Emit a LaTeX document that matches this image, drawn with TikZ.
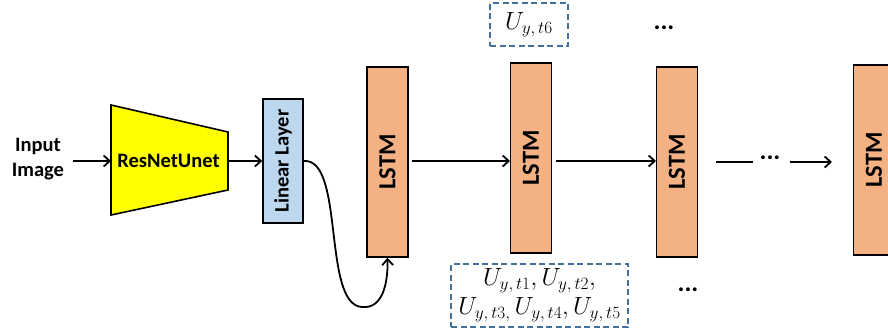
\documentclass[tikz,border=0pt]{standalone}
\usepackage{fontspec}
\setsansfont{Carlito}
\usetikzlibrary{arrows.meta}
\definecolor{resy}{HTML}{FFFF00}
\definecolor{linb}{HTML}{BDD7EE}
\definecolor{lstmo}{HTML}{F4B183}
\definecolor{dashb}{HTML}{41719C}
\tikzset{
  lbl/.style={font=\sffamily\bfseries\fontsize{20.5}{25}\selectfont, align=center, inner sep=0pt},
  lstmbox/.style={draw=black, line width=1.6pt, fill=lstmo, minimum width=41pt, minimum height=190pt, inner sep=0pt, font=\sffamily\bfseries\fontsize{24.5}{28}\selectfont},
  linbox/.style={draw=black, line width=1.6pt, fill=linb, minimum width=40pt, minimum height=124pt, inner sep=0pt, font=\sffamily\bfseries\fontsize{20.5}{24}\selectfont},
  conn/.style={line width=1.8pt, -{Straight Barb[length=6pt,width=11pt,line width=1.8pt]}},
  plain/.style={line width=1.8pt},
  ubox/.style={draw=dashb, line width=1.8pt, dash pattern=on 6pt off 3.5pt, inner sep=0pt, font=\fontsize{24.5}{27}\selectfont, align=center},
  dots/.style={font=\sffamily\bfseries\fontsize{26}{28}\selectfont, inner sep=0pt}
}
\begin{document}
\begin{tikzpicture}[x=1pt,y=-1pt]
\useasboundingbox (0,0) rectangle (888,333);
% input text
\node[lbl] (inp) at (38,159) {Input\\Image};
% trapezoid
\coordinate (tl) at (111,105);
\coordinate (tr) at (228,132);
\coordinate (br) at (228,190);
\coordinate (bl) at (111,215);
\fill[resy] (tl) -- (tr) -- (br) -- (bl) -- cycle;
\draw[line width=1.6pt, line join=miter] (tl) -- (tr) -- (br) -- (bl) -- cycle;
\node[lbl] (res) at (168.5,161) {ResNetUnet};
\coordinate (resin) at (111,161);
\coordinate (resout) at (228,161);
% linear layer
\node[linbox] (lin) at (283,161) {\rotatebox{90}{Linear Layer}};
% LSTMs
\node[lstmbox] (l1) at (387.5,162) {\rotatebox{90}{LSTM}};
\node[lstmbox] (l2) at (531,158) {\rotatebox{90}{LSTM}};
\node[lstmbox] (l3) at (677,162) {\rotatebox{90}{LSTM}};
\node[lstmbox] (l4) at (874,160) {\rotatebox{90}{LSTM}};
% arrows
\coordinate (a0) at (73,161);
\draw[conn] (a0) -- (resin);
\draw[conn] (resout) -- (lin.west);
\coordinate (a1) at (412,161);
\coordinate (a1e) at (510,161);
\draw[conn] (a1) -- (a1e);
\coordinate (a2) at (556,161);
\coordinate (a2e) at (656,161);
\draw[conn] (a2) -- (a2e);
\coordinate (a3) at (716,162);
\coordinate (a3m) at (753,162);
\node[dots] (d3) at (770,158) {...};
\coordinate (a3n) at (790,162);
\coordinate (a3e) at (832,162);
\draw[plain] (a3) -- (a3m);
\draw[conn] (a3n) -- (a3e);
% curve
\coordinate (cb) at (362,307);
\draw[plain] (lin.east) .. controls (345,158) and (322,305) .. (cb);
\draw[conn] (cb) .. controls (382,309) and (388,285) .. (l1.south);
% dashed boxes
\node[ubox, font=\fontsize{25.5}{30}\selectfont, minimum width=78pt, minimum height=43pt] (top) at (529,24.5) {$U_{y,\,t6}$};
\node[ubox, minimum width=177pt, minimum height=63pt] (bot) at (539.5,295.5) {$U_{y,\,t1}, U_{y,\,t2},$\\[2pt]$U_{y,\,t3,}\,U_{y,\,t4}, U_{y,\,t5}$};
\node[dots] (dtop) at (664,28) {...};
\node[dots] (dbot) at (688,290) {...};
\end{tikzpicture}
\end{document}
